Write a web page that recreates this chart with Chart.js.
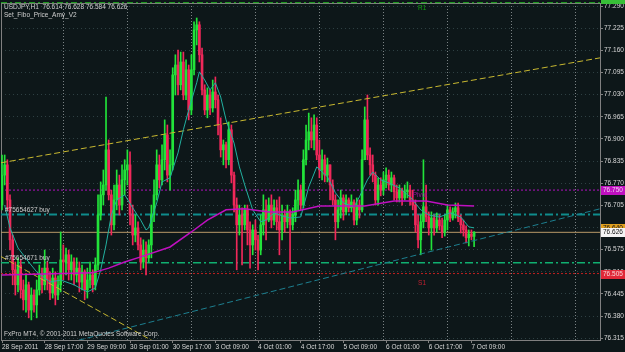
<!DOCTYPE html>
<html>
<head>
<meta charset="utf-8">
<script src="https://cdn.jsdelivr.net/npm/chart.js@4.4.0/dist/chart.umd.min.js"></script>
<style>
  html, body { margin: 0; padding: 0; background: #0d1719; }
  #wrap { width: 625px; height: 352px; }
</style>
</head>
<body>
<div id="wrap"><canvas id="chart" width="625" height="352"></canvas></div>
<script>
// ---- data (USDJPY H1, bar 0 = 28 Sep 2011 01:00) ----
const tickBars = [0, 16, 32, 48, 64, 80, 96, 112, 128, 144, 160, 176];
const tickLabels = ['28 Sep 2011', '28 Sep 17:00', '29 Sep 09:00', '30 Sep 01:00', '30 Sep 17:00', '3 Oct 09:00',
  '4 Oct 01:00', '4 Oct 17:00', '5 Oct 09:00', '6 Oct 01:00', '6 Oct 17:00', '7 Oct 09:00'];
const daySeparators = [23, 47, 71, 95, 119, 143, 167, 191, 215];
const priceTicks = [77.290, 77.225, 77.160, 77.095, 77.030, 76.965, 76.900, 76.835, 76.770, 76.705,
  76.640, 76.575, 76.510, 76.445, 76.380, 76.315];

const firstOpen = 76.706;
const closes = [76.794,76.824,76.721,76.604,76.516,76.472,76.530,76.457,76.428,76.472,
  76.398,76.442,76.413,76.457,76.501,76.472,76.521,76.486,76.448,76.492,
  76.442,76.472,76.545,76.539,76.560,76.516,76.539,76.501,76.521,76.480,
  76.510,76.457,76.486,76.501,76.472,76.530,76.677,76.736,76.765,76.868,
  76.736,76.648,76.721,76.765,76.706,76.780,76.809,76.824,76.677,76.618,
  76.639,76.589,76.539,76.574,76.551,76.589,76.677,76.736,76.824,76.780,
  76.839,76.912,76.794,76.824,77.088,77.117,77.059,77.126,77.029,77.103,
  76.985,77.103,77.220,77.235,77.147,77.044,76.985,77.029,76.991,77.038,
  77.015,76.941,76.868,76.883,76.839,76.927,76.794,76.706,76.648,76.677,
  76.648,76.692,76.633,76.589,76.633,76.604,76.574,76.648,76.692,76.662,
  76.706,76.662,76.698,76.657,76.633,76.677,76.657,76.686,76.648,76.677,
  76.721,76.750,76.706,76.839,76.897,76.921,76.897,76.941,76.853,76.809,
  76.839,76.794,76.824,76.765,76.721,76.657,76.692,76.727,76.686,76.721,
  76.698,76.715,76.662,76.706,76.692,76.839,76.956,76.853,76.824,76.794,
  76.721,76.765,76.750,76.780,76.794,76.765,76.786,76.745,76.727,76.750,
  76.727,76.745,76.750,76.721,76.706,76.648,76.604,76.657,76.701,76.671,
  76.639,76.668,76.639,76.662,76.645,76.627,76.662,76.692,76.668,76.686,
  76.698,76.668,76.648,76.633,76.610,76.621,76.614,76.626];
const highs = [76.853,76.853,76.839,76.736,76.618,76.539,76.551,76.545,76.486,76.501,
  76.480,76.463,76.457,76.486,76.530,76.521,76.574,76.539,76.510,76.521,
  76.510,76.498,76.627,76.589,76.580,76.574,76.560,76.551,76.551,76.539,
  76.530,76.516,76.521,76.539,76.516,76.551,76.736,76.774,76.809,77.023,
  76.897,76.750,76.765,76.809,76.794,76.824,76.839,76.868,76.862,76.706,
  76.677,76.657,76.610,76.604,76.598,76.604,76.706,76.780,76.868,76.853,
  76.883,76.956,76.941,76.868,77.109,77.147,77.161,77.155,77.155,77.132,
  77.117,77.147,77.244,77.255,77.244,77.167,77.059,77.050,77.044,77.073,
  77.082,77.029,76.962,76.897,76.891,76.950,76.941,76.803,76.727,76.706,
  76.698,76.706,76.706,76.657,76.648,76.662,76.618,76.677,76.736,76.721,
  76.727,76.736,76.721,76.721,76.730,76.706,76.692,76.706,76.692,76.698,
  76.750,76.780,76.765,76.868,76.941,76.976,76.962,76.971,76.962,76.897,
  76.868,76.853,76.844,76.824,76.780,76.736,76.721,76.750,76.736,76.736,
  76.727,76.736,76.721,76.727,76.721,76.868,76.994,77.029,76.874,76.853,
  76.803,76.786,76.786,76.803,76.815,76.809,76.803,76.794,76.765,76.765,
  76.756,76.765,76.774,76.765,76.750,76.721,76.677,76.677,76.839,76.765,
  76.686,76.686,76.677,76.683,76.677,76.668,76.677,76.706,76.701,76.698,
  76.712,76.712,76.677,76.662,76.645,76.633,76.633,76.628];
const lows = [76.692,76.765,76.692,76.574,76.472,76.442,76.451,76.433,76.398,76.392,
  76.375,76.369,76.392,76.375,76.442,76.448,76.457,76.457,76.428,76.433,
  76.413,76.428,76.451,76.486,76.501,76.486,76.486,76.472,76.480,76.451,
  76.457,76.428,76.433,76.463,76.451,76.457,76.516,76.662,76.706,76.750,
  76.721,76.618,76.633,76.692,76.677,76.692,76.736,76.765,76.648,76.589,
  76.598,76.574,76.516,76.521,76.501,76.539,76.551,76.657,76.721,76.756,
  76.765,76.809,76.774,76.750,76.809,77.029,77.029,77.044,77.015,77.015,
  76.956,76.971,77.088,77.176,77.126,77.029,76.971,76.962,76.971,76.979,
  76.991,76.912,76.847,76.824,76.815,76.824,76.771,76.686,76.516,76.618,
  76.530,76.633,76.589,76.521,76.560,76.574,76.516,76.560,76.618,76.604,
  76.657,76.639,76.648,76.633,76.560,76.604,76.627,76.639,76.516,76.633,
  76.657,76.692,76.692,76.698,76.824,76.868,76.874,76.868,76.839,76.786,
  76.780,76.774,76.774,76.721,76.706,76.604,76.639,76.668,76.662,76.677,
  76.686,76.686,76.648,76.648,76.668,76.686,76.839,76.839,76.794,76.774,
  76.706,76.706,76.733,76.736,76.756,76.750,76.745,76.721,76.715,76.715,
  76.706,76.721,76.727,76.706,76.692,76.627,76.580,76.560,76.639,76.657,
  76.618,76.574,76.618,76.627,76.633,76.610,76.615,76.633,76.657,76.662,
  76.668,76.657,76.624,76.615,76.595,76.586,76.604,76.584];

// fast moving average (bar, price)
const maFastBars = [1,3,6,10,13,18,22,27,32,35,37,39,41,43,46,49,52,54,55,58,
  60,63,66,68,70,73,74,76,78,80,82,84,87,89,91,94,97,99,102,104,
  108,112,115,118,122,125,128,132,134,137,139,142,145,149,153,157,160,164,168,172,175,177];
const maFastValues = [76.706,76.639,76.580,76.539,76.510,76.480,76.486,76.472,76.451,76.463,
  76.516,76.589,76.677,76.721,76.736,76.698,76.662,76.633,76.639,76.712,
  76.774,76.786,76.859,76.927,76.985,77.065,77.097,77.073,77.044,77.065,
  77.023,76.956,76.888,76.818,76.765,76.692,76.657,76.662,76.683,76.677,
  76.668,76.671,76.759,76.818,76.789,76.742,76.712,76.701,76.730,76.780,
  76.803,76.780,76.771,76.756,76.730,76.692,76.677,76.671,76.683,76.671,76.642,76.639];
// slow moving average (bar, price)
const maSlowBars = [0,34,40,46,52,63,71,77,84,91,100,109,119,136,147,159,167,177];
const maSlowValues = [76.501,76.507,76.521,76.539,76.554,76.583,76.627,76.662,76.692,76.695,
  76.686,76.686,76.703,76.703,76.718,76.718,76.706,76.703];

// horizontal levels
const r1 = 77.300, pivot = 76.750, s1 = 76.505, bid = 76.626;
const order1 = 76.678, order2 = 76.537;
// trend lines: [bar, price] pairs
const trendUpper = [[-0.375, 76.830], [224.2, 77.138]];
const trendLower = [[-0.375, 76.555], [60, 76.292]];
const trendTeal = [[25.5, 76.303], [224.2, 76.695]];

// ---- build ----
const xMin = -0.375, xMax = 224.2;
const opens = closes.map((c, i) => i === 0 ? firstOpen : closes[i - 1]);
const bull = closes.map((c, i) => c >= opens[i]);
const upCol = '#22e33a', dnCol = '#f0285a';
const font = { family: 'Liberation Sans', size: 6.5 };

function level(value, color, dash, width) {
  return {
    type: 'line', data: [{ x: xMin, y: value }, { x: xMax, y: value }],
    borderColor: color, borderWidth: width || 1, borderDash: dash, pointRadius: 0, order: 3, clip: 2
  };
}
function trend(pts, color) {
  return {
    type: 'line', data: pts.map(p => ({ x: p[0], y: p[1] })),
    borderColor: color, borderWidth: 1, borderDash: [6, 3], pointRadius: 0, order: 0
  };
}
// keep the plot area fixed: no automatic label padding
function noPad(s) {
  s.paddingLeft = 0; s.paddingRight = 0; s.paddingTop = 0; s.paddingBottom = 0;
}

const overlay = {
  id: 'overlay',
  beforeDraw(chart) {
    const c = chart.ctx;
    c.save();
    c.fillStyle = '#0d1719';
    c.fillRect(0, 0, chart.width, chart.height);
    c.restore();
  },
  beforeDatasetsDraw(chart) {
    // frame under the marks
    const c = chart.ctx, a = chart.chartArea;
    c.save();
    c.strokeStyle = '#808080';
    c.lineWidth = 1;
    c.strokeRect(a.left + 0.5, a.top + 0.5, a.right - a.left, a.bottom - a.top);
    c.restore();
  },
  afterDatasetsDraw(chart) {
    const c = chart.ctx;
    const y = chart.scales.y, x = chart.scales.x;
    c.save();
    c.font = '6.5px "Liberation Sans"';
    c.textBaseline = 'middle';
    c.fillStyle = '#cfcfcf';
    c.fillText('USDJPY,H1  76.614 76.628 76.584 76.626', 4, 7);
    c.fillText('Set_Fibo_Price_Amy_V2', 4, 15);
    c.fillText('FxPro MT4, \u00a9 2001-2011 MetaQuotes Software Corp.', 4, 334);
    c.fillText('#75654627 buy', 5, y.getPixelForValue(order1) - 4);
    c.fillText('#75654671 buy', 5, y.getPixelForValue(order2) - 4);
    c.textBaseline = 'top';
    c.fillStyle = '#12a012';
    c.fillText('R1', x.getPixelForValue(156), y.getPixelForValue(r1) + 2);
    c.fillStyle = '#9a109a';
    c.fillText('Pivot', x.getPixelForValue(154), y.getPixelForValue(pivot) + 2);
    c.fillStyle = '#c02030';
    c.fillText('S1', x.getPixelForValue(156), y.getPixelForValue(s1) + 6);
    c.restore();
  },
  afterDraw(chart) {
    const c = chart.ctx, y = chart.scales.y;
    const tags = [
      [pivot, '#c010c0', '#f0d0f0', '76.750'],
      [bid + 0.014, '#e0a020', '#101010', '76.640'],
      [bid, '#f4f4f4', '#101010', '76.626'],
      [s1, '#e02838', '#f8d8d8', '76.505']
    ];
    c.save();
    c.font = '6.5px "Liberation Sans"';
    c.textBaseline = 'middle';
    // R1 tag sits mostly above the window edge
    c.fillStyle = '#38c038';
    c.fillRect(601, 0, 24, Math.round(y.getPixelForValue(r1)) + 1);
    tags.forEach(t => {
      const py = Math.round(y.getPixelForValue(t[0]));
      c.fillStyle = t[1];
      c.fillRect(601, py - 4, 24, 9);
      c.fillStyle = t[2];
      c.fillText(t[3], 603, py + 0.5);
    });
    c.restore();
  }
};

new Chart(document.getElementById('chart'), {
  data: {
    datasets: [
      {
        type: 'bar', label: 'wick',
        data: highs.map((h, i) => ({ x: i, y: [lows[i], h] })),
        backgroundColor: bull.map(b => b ? upCol : dnCol),
        barThickness: 1, grouped: false, order: 2
      },
      {
        type: 'bar', label: 'body',
        data: closes.map((cl, i) => ({ x: i, y: [opens[i], cl] })),
        backgroundColor: bull.map(b => b ? upCol : dnCol),
        barThickness: 2, minBarLength: 1, grouped: false, order: 1
      },
      {
        type: 'line', data: maSlowBars.map((b, i) => ({ x: b, y: maSlowValues[i] })),
        borderColor: '#c010c0', borderWidth: 1.5, pointRadius: 0, order: 0
      },
      {
        type: 'line', data: maFastBars.map((b, i) => ({ x: b, y: maFastValues[i] })),
        borderColor: '#22b0a0', borderWidth: 1, pointRadius: 0, order: 0
      },
      level(r1, '#22b022', [6, 3, 2, 3]),
      level(pivot, '#b010c0', [2, 2]),
      level(order1, '#0f8c8c', [8, 3, 2, 3], 2),
      level(bid, '#b89868', []),
      level(order2, '#10b070', [8, 3, 2, 3], 1.5),
      level(s1, '#c02020', [2, 2]),
      trend(trendUpper, '#c8b830'),
      trend(trendLower, '#c8b830'),
      trend(trendTeal, '#1d7f8f')
    ]
  },
  options: {
    responsive: false,
    animation: false,
    devicePixelRatio: 1,
    layout: { padding: { top: 3, left: 1, right: 0, bottom: 0 } },
    plugins: { legend: { display: false }, tooltip: { enabled: false } },
    scales: {
      x: {
        type: 'linear', min: xMin, max: xMax, position: 'bottom', offset: false,
        afterBuildTicks: s => { s.ticks = tickBars.map(v => ({ value: v })); },
        afterFit: s => { s.height = 12; noPad(s); },
        grid: { offset: false, drawOnChartArea: false, drawTicks: true, tickLength: 3, tickColor: '#808080' },
        border: { display: true, color: '#808080' },
        ticks: {
          align: 'start', padding: 0, maxRotation: 0, autoSkip: false, color: '#d8d8d8', font,
          callback: v => tickLabels[tickBars.indexOf(v)]
        }
      },
      xd: {
        type: 'linear', min: xMin, max: xMax, position: 'bottom', offset: false,
        afterBuildTicks: s => { s.ticks = daySeparators.map(v => ({ value: v })); },
        afterFit: s => { s.height = 0; noPad(s); },
        grid: { drawOnChartArea: true, drawTicks: false, color: '#7a8284' },
        border: { display: false, dash: [1, 2] },
        ticks: { display: false }
      },
      y: {
        type: 'linear', position: 'right', min: 76.310, max: 77.299,
        afterBuildTicks: s => { s.ticks = priceTicks.map(v => ({ value: v })); },
        afterFit: s => { s.width = 25; noPad(s); },
        grid: { color: '#2e4043', drawTicks: true, tickLength: 3, tickColor: '#808080' },
        border: { display: true, color: '#808080', dash: [1, 3] },
        ticks: { color: '#d8d8d8', font, padding: 1, callback: v => v.toFixed(3) }
      }
    }
  },
  plugins: [overlay]
});
</script>
</body>
</html>
